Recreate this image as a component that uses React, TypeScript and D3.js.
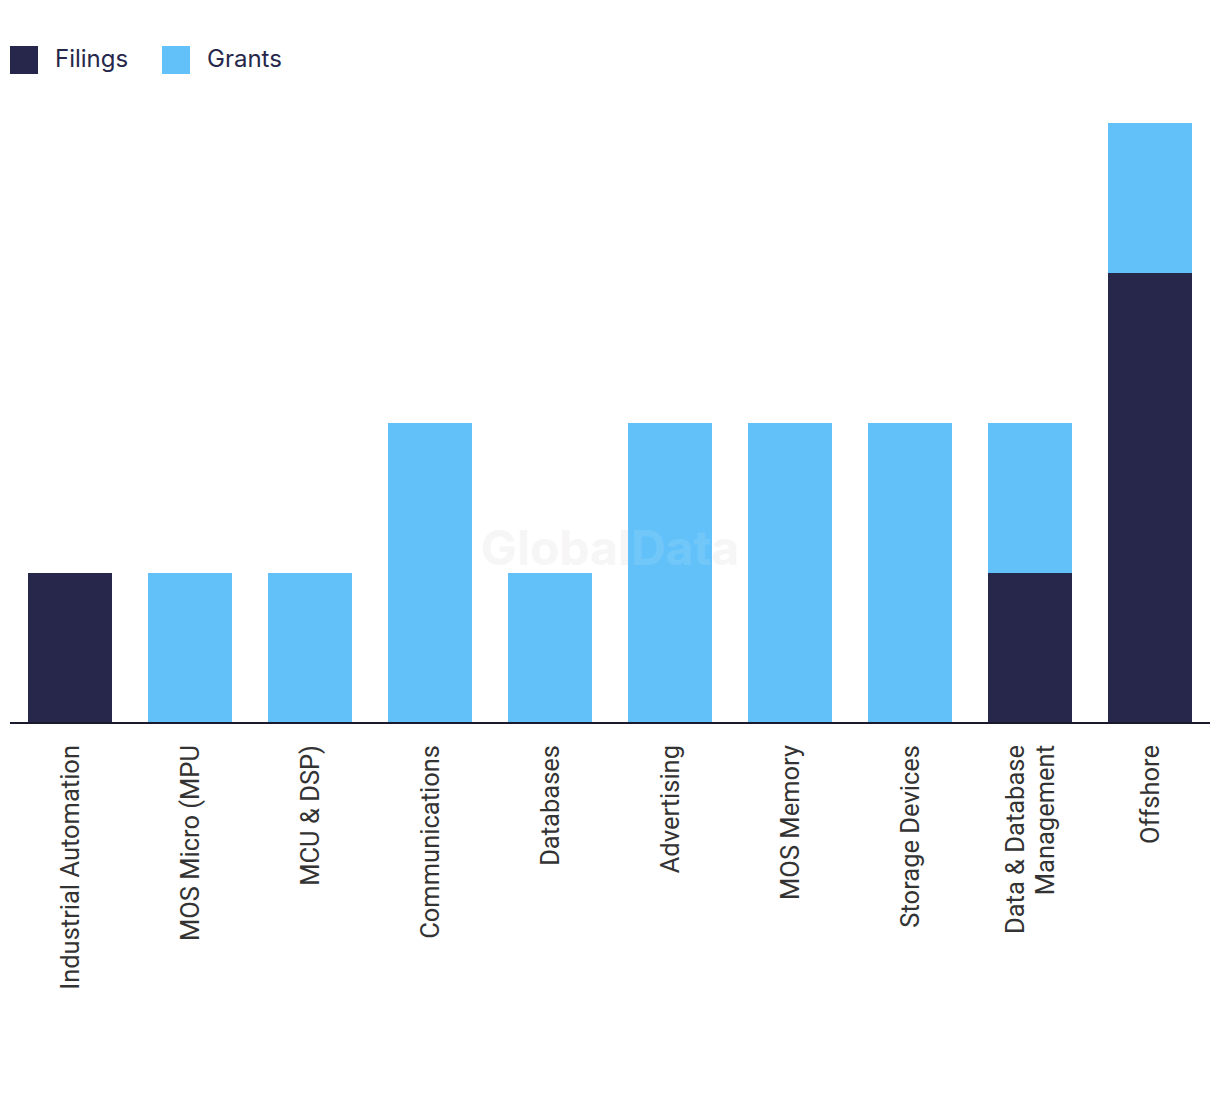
import React from "react";
import * as d3 from "d3";

const categories = [
  "Industrial Automation",
  "MOS Micro (MPU",
  "MCU & DSP)",
  "Communications",
  "Databases",
  "Advertising",
  "MOS Memory",
  "Storage Devices",
  "Data & Database Management",
  "Offshore",
];
const filings = [1, 0, 0, 0, 0, 0, 0, 0, 1, 3];
const grants = [0, 1, 1, 2, 1, 2, 2, 2, 1, 1];
const seriesNames = ["Filings", "Grants"];
const seriesColors = ["#26274A", "#62C1F9"];

const labelLines: Record<string, string[]> = {
  "Data & Database Management": ["Data & Database", "Management"],
};

export default function App() {
  const W = 1220;
  const H = 1094;
  const left = 10;
  const right = 1210;
  const baseline = 723;
  const top = 123;

  const x = d3
    .scaleBand<string>()
    .domain(categories)
    .range([left, right])
    .paddingInner(0.3)
    .paddingOuter(0.15);
  const y = d3.scaleLinear().domain([0, 4]).range([baseline, top]);

  const rows = categories.map((c, i) => ({ cat: c, Filings: filings[i], Grants: grants[i] }));
  const stacked = d3.stack<any>().keys(seriesNames)(rows);

  return (
    <svg width={W} height={H} style={{ display: "block", position: "absolute", left: 0, top: 0 }}>
      <rect width={W} height={H} fill="#fff" />
      {/* legend */}
      {seriesNames.map((s, i) => {
        const lx = i === 0 ? 10 : 162;
        return (
          <g key={s}>
            <rect x={lx} y={46} width={28} height={28} fill={seriesColors[i]} />
            <text
              x={lx + 45}
              y={67}
              fontFamily="Inter, 'Open Sans', sans-serif"
              fontSize={24}
              fill="#26274A"
            >
              {s}
            </text>
          </g>
        );
      })}
      {/* watermark */}
      <text
        x={610}
        y={565}
        textAnchor="middle"
        fontFamily="Inter, 'Liberation Sans', sans-serif"
        fontWeight={700}
        fontSize={48}
        fill="#e6e6e6"
        opacity={0.35}
      >
        GlobalData
      </text>
      {/* bars */}
      {stacked.map((layer, si) => (
        <g key={layer.key} fill={seriesColors[si]}>
          {layer.map((d, i) =>
            d[1] - d[0] > 0 ? (
              <rect
                key={i}
                x={x(categories[i])}
                width={x.bandwidth()}
                y={y(d[1])}
                height={y(d[0]) - y(d[1])}
              />
            ) : null
          )}
        </g>
      ))}
      {/* watermark overlay on bars */}
      <text
        x={610}
        y={565}
        textAnchor="middle"
        fontFamily="Inter, 'Liberation Sans', sans-serif"
        fontWeight={700}
        fontSize={48}
        fill="#ffffff"
        opacity={0.1}
      >
        GlobalData
      </text>
      {/* axis line */}
      <line x1={left} x2={right} y1={baseline} y2={baseline} stroke="#1a1a2e" strokeWidth={2} />
      {/* labels */}
      {categories.map((c) => {
        const cx = (x(c) as number) + x.bandwidth() / 2;
        const lines = labelLines[c] || [c];
        const lh = 30;
        return (
          <g key={c} transform={`translate(${cx},745) rotate(-90)`}>
            {lines.map((ln, k) => (
              <text
                key={k}
                x={0}
                y={(k - (lines.length - 1) / 2) * lh}
                dy="0.35em"
                textAnchor="end"
                fontFamily="Roboto, 'Liberation Sans', sans-serif"
                fontSize={25.5}
                fill="#333333"
              >
                {ln}
              </text>
            ))}
          </g>
        );
      })}
    </svg>
  );
}
